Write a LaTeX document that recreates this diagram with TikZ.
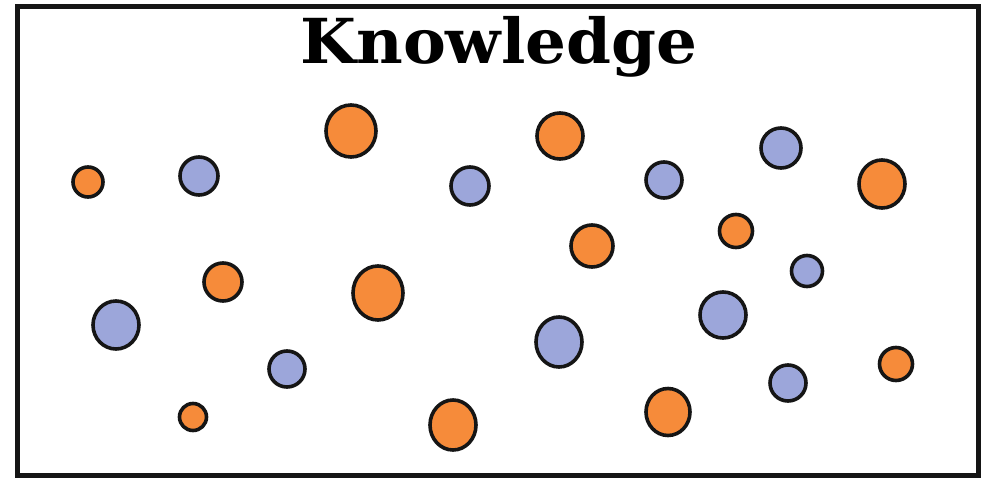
\documentclass[tikz,border=0pt]{standalone}
\usepackage{fontspec}
\setmainfont{Liberation Serif}
\newfontfamily\titlefont{DejaVu Serif}
\usetikzlibrary{shapes.geometric}
\definecolor{dotorange}{HTML}{F68B3A}
\definecolor{dotblue}{HTML}{9CA6DA}
\definecolor{ink}{HTML}{151515}
\tikzset{
  dot/.style={ellipse, draw=ink, line width=3.6pt, inner sep=0pt, minimum width=#1*2pt, minimum height=#1*2pt},
  org/.style={dot=#1, fill=dotorange},
  blu/.style={dot=#1, fill=dotblue},
}
\begin{document}
\begin{tikzpicture}[x=1pt,y=-1pt]
\useasboundingbox (0,0) rectangle (990,482);
\fill[white] (0,0) rectangle (990,482);
\node[draw=ink, line width=5pt, minimum width=961pt, minimum height=469pt, inner sep=0pt] (frame) at (497.5,240.5) {};
\node[inner sep=0pt, anchor=base] (title) at (499,63) {\resizebox{397pt}{\height}{\titlefont\bfseries\fontsize{62}{62}\selectfont Knowledge}};
% orange
\node[org=15] (o1) at (88,182) {};
\node[org=25, minimum width=50pt, minimum height=52pt] (o2) at (351,131) {};
\node[org=19] (o3) at (223,282) {};
\node[org=25, minimum width=50pt, minimum height=54pt] (o4) at (378,293) {};
\node[org=13.5] (o5) at (193,417) {};
\node[org=23, minimum width=46pt, minimum height=50pt] (o6) at (453,425) {};
\node[org=23] (o7) at (560,136) {};
\node[org=23, minimum width=46pt, minimum height=48pt] (o8) at (882,184) {};
\node[org=21] (o9) at (592,246) {};
\node[org=16.5] (o10) at (736,231) {};
\node[org=16.5] (o11) at (896,364) {};
\node[org=22, minimum width=44pt, minimum height=47pt] (o12) at (668,412) {};
% blue
\node[blu=19] (b1) at (199,176) {};
\node[blu=19] (b2) at (470,186) {};
\node[blu=23, minimum width=46pt, minimum height=48pt] (b3) at (116,325) {};
\node[blu=18] (b4) at (287,369) {};
\node[blu=18] (b5) at (664,180) {};
\node[blu=20] (b6) at (781,148) {};
\node[blu=15.5] (b7) at (807,271) {};
\node[blu=23] (b8) at (723,315) {};
\node[blu=23, minimum width=46pt, minimum height=50pt] (b9) at (559,342) {};
\node[blu=18] (b10) at (788,383) {};
\end{tikzpicture}
\end{document}
